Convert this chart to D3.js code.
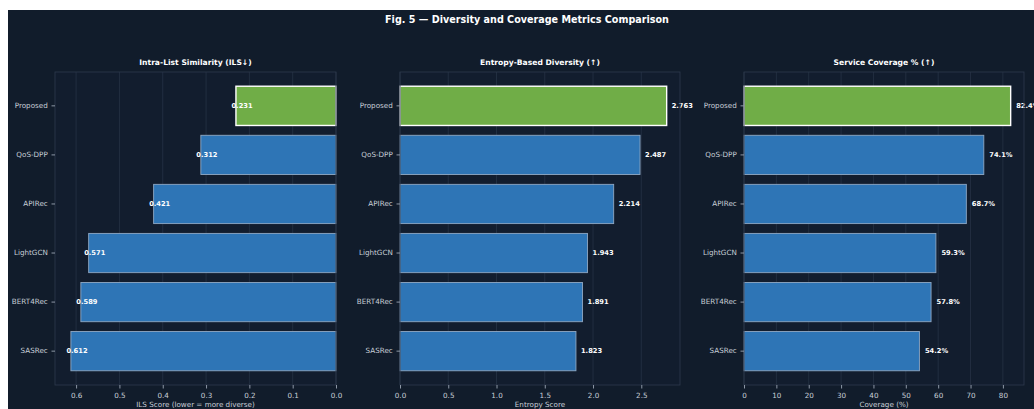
<!DOCTYPE html>
<html><head><meta charset="utf-8">
<script src="https://cdn.jsdelivr.net/npm/d3@7"></script>
<style>
html,body{margin:0;padding:0;background:#ffffff;}
svg{display:block;font-family:"DejaVu Sans",sans-serif;}
</style></head>
<body>
<svg id="chart" width="1034" height="409"></svg>
<script>
const methods = ["Proposed","QoS-DPP","APIRec","LightGCN","BERT4Rec","SASRec"];
const ilsValues = [0.231,0.312,0.421,0.571,0.589,0.612];
const entropyValues = [2.763,2.487,2.214,1.943,1.891,1.823];
const coverageValues = [82.4,74.1,68.7,59.3,57.8,54.2];
const ilsTicks = [0.6,0.5,0.4,0.3,0.2,0.1,0.0];
const entropyTicks = [0.0,0.5,1.0,1.5,2.0,2.5];
const coverageTicks = [0,10,20,30,40,50,60,70,80];
const panelTitles = ["Intra-List Similarity (ILS\u2193)","Entropy-Based Diversity (\u2191)","Service Coverage % (\u2191)"];
const axisLabels = ["ILS Score (lower = more diverse)","Entropy Score","Coverage (%)"];
const figTitle = "Fig. 5 \u2014 Diversity and Coverage Metrics Comparison";

const svg = d3.select("#chart");
const BG = "#111c2b";
svg.append("rect").attr("x",8).attr("y",10).attr("width",1026).attr("height",399).attr("fill",BG);
svg.append("text").attr("x",527).attr("y",23).attr("text-anchor","middle")
  .attr("fill","#ffffff").attr("font-weight","bold").attr("font-size",9.6).text(figTitle);

const axTop = 72, axBottom = 385;
const panels = [
  {left:55, right:336, values:ilsValues, ticks:ilsTicks, domain:[d3.max(ilsValues)*1.06,0], fmt:d=>d.toFixed(1), lab:v=>v.toFixed(3), off:-4.5},
  {left:400, right:680, values:entropyValues, ticks:entropyTicks, domain:[0,d3.max(entropyValues)*1.05], fmt:d=>d.toFixed(1), lab:v=>v.toFixed(3), off:5},
  {left:744, right:1024, values:coverageValues, ticks:coverageTicks, domain:[0,d3.max(coverageValues)*1.05], fmt:d=>String(d), lab:v=>v.toFixed(1)+"%", off:5.5}
];

const yLin = d3.scaleLinear().domain([-0.69,5.69]).range([axTop,axBottom]);
const barH = yLin(0.4)-yLin(-0.4);

panels.forEach((p,i)=>{
  const x = d3.scaleLinear().domain(p.domain).range([p.left,p.right]);
  const g = svg.append("g");
  g.append("rect").attr("x",p.left).attr("y",axTop).attr("width",p.right-p.left).attr("height",axBottom-axTop).attr("fill","#121d2e");
  g.selectAll("line.grid").data(p.ticks).enter().append("line")
    .attr("x1",d=>x(d)).attr("x2",d=>x(d)).attr("y1",axTop).attr("y2",axBottom)
    .attr("stroke","#263245").attr("stroke-width",0.8);
  g.selectAll("rect.bar").data(p.values).enter().append("rect")
    .attr("x",d=>Math.min(x(0),x(d))).attr("width",d=>Math.abs(x(d)-x(0)))
    .attr("y",(d,j)=>yLin(j)-barH/2).attr("height",barH)
    .attr("fill",(d,j)=>j===0?"#70ad47":"#2e75b6")
    .attr("stroke",(d,j)=>j===0?"#ffffff":"#8fa8c4")
    .attr("stroke-width",(d,j)=>j===0?1.4:0.9);
  g.selectAll("text.val").data(p.values).enter().append("text")
    .attr("x",d=>x(d)+p.off).attr("y",(d,j)=>yLin(j)).attr("dy","0.35em")
    .attr("fill","#ffffff").attr("font-weight","bold").attr("font-size",6.7)
    .text(d=>p.lab(d));
  g.append("rect").attr("x",p.left).attr("y",axTop).attr("width",p.right-p.left).attr("height",axBottom-axTop)
    .attr("fill","none").attr("stroke","#2b3749").attr("stroke-width",0.9);
  const xa = g.append("g").attr("transform",`translate(0,${axBottom})`)
    .call(d3.axisBottom(x).tickValues(p.ticks).tickFormat(p.fmt).tickSize(3.5).tickSizeOuter(0));
  xa.select(".domain").remove();
  xa.selectAll("line").attr("stroke","#8d97a6");
  xa.selectAll("text").attr("fill","#c8cfd8").attr("font-size",7.2).attr("font-family","DejaVu Sans").attr("dy","0.9em");
  const yb = d3.scaleBand().domain(methods).range([yLin(-0.5),yLin(5.5)]);
  const ya = g.append("g").attr("transform",`translate(${p.left},0)`)
    .call(d3.axisLeft(yb).tickSize(3.5).tickSizeOuter(0));
  ya.select(".domain").remove();
  ya.selectAll("line").attr("stroke","#8d97a6");
  ya.selectAll("text").attr("fill","#c8cfd8").attr("font-size",7.2).attr("font-family","DejaVu Sans").attr("dx","-0.1em");
  g.append("text").attr("x",(p.left+p.right)/2).attr("y",65).attr("text-anchor","middle")
    .attr("fill","#ffffff").attr("font-weight","bold").attr("font-size",7.6).text(panelTitles[i]);
  g.append("text").attr("x",(p.left+p.right)/2).attr("y",407).attr("text-anchor","middle")
    .attr("fill","#c8cfd8").attr("font-size",7.2).text(axisLabels[i]);
});
</script>
</body></html>
